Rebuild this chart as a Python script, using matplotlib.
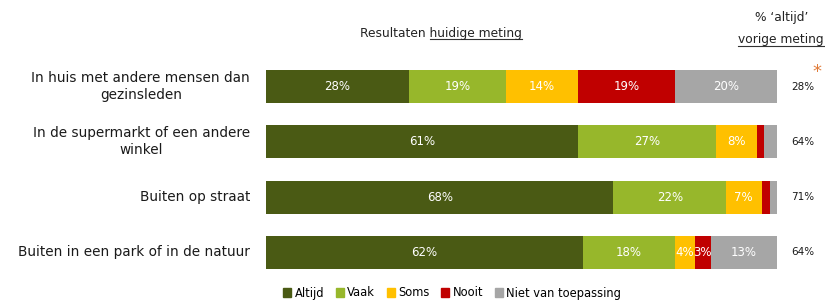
import matplotlib
matplotlib.use("Agg")
import matplotlib.pyplot as plt
from matplotlib.patches import Patch
from matplotlib.lines import Line2D

plt.rcParams["font.family"] = ["DejaVu Sans"]

categories = [
    "In huis met andere mensen dan\ngezinsleden",
    "In de supermarkt of een andere\nwinkel",
    "Buiten op straat",
    "Buiten in een park of in de natuur",
]
series = ["Altijd", "Vaak", "Soms", "Nooit", "Niet van toepassing"]
colors = ["#4a5a14", "#97b72b", "#ffc000", "#c00000", "#a6a6a6"]
values = [
    [28, 19, 14, 19, 20],
    [61, 27, 8, 1.5, 2.5],
    [68, 22, 7, 1.7, 1.3],
    [62, 18, 4, 3, 13],
]
labels = [
    ["28%", "19%", "14%", "19%", "20%"],
    ["61%", "27%", "8%", "", ""],
    ["68%", "22%", "7%", "", ""],
    ["62%", "18%", "4%", "3%", "13%"],
]
previous = ["28%", "64%", "71%", "64%"]
significant = [True, False, False, False]

W, H = 825, 302
fig = plt.figure(figsize=(W / 100, H / 100), dpi=100)
ax = fig.add_axes([266 / W, 1 - 280 / H, 511 / W, 221 / H])

for i, row in enumerate(values):
    left = 0
    for j, v in enumerate(row):
        ax.barh(i, v, left=left, height=0.6, color=colors[j], linewidth=0)
        if labels[i][j]:
            ax.text(left + v / 2, i, labels[i][j], ha="center", va="center",
                    color="white", fontsize=8.5)
        left += v

ax.set_xlim(0, 100)
ax.set_ylim(3.5, -0.5)
ax.axis("off")

for i, cat in enumerate(categories):
    ax.text(-3.1, i, cat, ha="right", va="center", fontsize=9.8,
            color="#1a1a1a", linespacing=1.25, multialignment="center")
    ax.text(105.0, i, previous[i], ha="center", va="center", fontsize=7.5,
            color="#1a1a1a")
    if significant[i]:
        ax.text(107.9, i - 0.27, "*", ha="center", va="center", fontsize=13,
                color="#e07b39")


def underlined(x, y, before, under, **kw):
    # draw text and put a line under the second part
    t1 = fig.text(x, y, before + under, **kw)
    fig.canvas.draw()
    r = fig.canvas.get_renderer()
    full = t1.get_window_extent(r)
    t2 = fig.text(0, 0, under, **kw)
    part = t2.get_window_extent(r)
    t2.remove()
    x1 = full.x1 / W
    x0 = (full.x1 - part.width) / W
    yl = (full.y0 + 1) / H
    fig.add_artist(Line2D([x0, x1], [yl, yl], color="#333333", lw=0.8))


underlined(441 / W, 1 - 33 / H, "Resultaten ", "huidige meting",
           ha="center", va="center", fontsize=8.8, color="#222222")
fig.text(782 / W, 1 - 18 / H, "% \u2018altijd\u2019", ha="center",
         va="center", fontsize=8.8, color="#222222")
underlined(781 / W, 1 - 40 / H, "", "vorige meting",
           ha="center", va="center", fontsize=8.8, color="#222222")

handles = [Patch(color=c, label=s) for c, s in zip(colors, series)]
fig.legend(handles=handles, loc="center", bbox_to_anchor=(452 / W, 1 - 293 / H),
           ncol=5, frameon=False, fontsize=8.3, handlelength=0.7,
           handleheight=0.7, handletextpad=0.3, columnspacing=1.0)

fig.savefig("out.png", dpi=100, facecolor="white")
